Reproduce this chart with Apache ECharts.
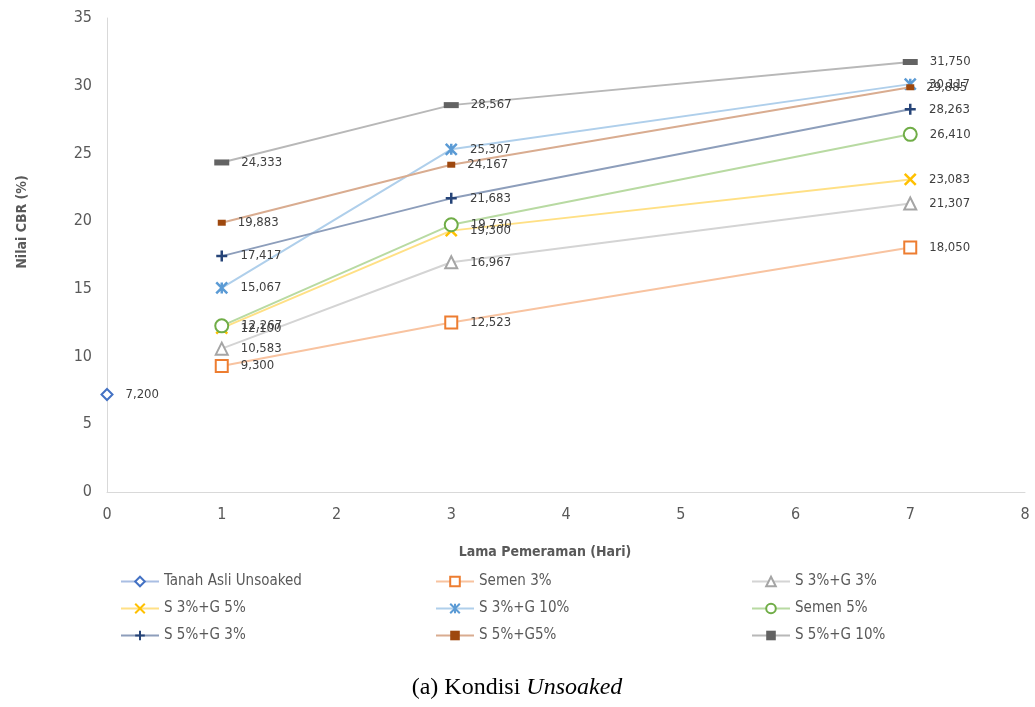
<!DOCTYPE html>
<html><head><meta charset="utf-8">
<script src="https://cdn.jsdelivr.net/npm/echarts@6/dist/echarts.min.js"></script>
<style>html,body{margin:0;padding:0;background:#fff}#c{width:1035px;height:707px}</style>
</head><body><div id="c"></div>
<script>
const seriesNames = ['Tanah Asli Unsoaked','Semen 3%','S 3%+G 3%','S 3%+G 5%','S 3%+G 10%','Semen 5%','S 5%+G 3%','S 5%+G5%','S 5%+G 10%'];
const daysAsli = [0];
const days = [1, 3, 7];
const tanahAsli = [7.200];
const semen3 = [9.300, 12.523, 18.050];
const s3g3 = [10.583, 16.967, 21.307];
const s3g5 = [12.100, 19.300, 23.083];
const s3g10 = [15.067, 25.307, 30.117];
const semen5 = [12.267, 19.730, 26.410];
const s5g3 = [17.417, 21.683, 28.263];
const s5g5 = [19.883, 24.167, 29.885];
const s5g10 = [24.333, 28.567, 31.750];
const xTicks = [0,1,2,3,4,5,6,7,8];
const yTicks = [0,5,10,15,20,25,30,35];

const FONT = "'Liberation Sans Narrow','DejaVu Sans Condensed','Open Sans',sans-serif";
const pair = (xs, ys) => xs.map((x,i)=>[x, ys[i]]);
const fmt = p => p.value[1].toFixed(3).replace('.', ',');

const styles = [
  {c:'#4472C4', sym:'diamond', size:11, hollow:true},
  {c:'#ED7D31', sym:'rect', size:12, hollow:true},
  {c:'#A5A5A5', sym:'triangle', size:12, hollow:true},
  {c:'#FFC000', sym:'path://M0,0L10,10M10,0L0,10', size:11, stroke:true},
  {c:'#5B9BD5', sym:'path://M0,0L10,10M10,0L0,10M5,0L5,10', size:11, stroke:true},
  {c:'#70AD47', sym:'circle', size:13, hollow:true},
  {c:'#264478', sym:'path://M5,0L5,10M0,5L10,5', size:11, stroke:true},
  {c:'#9E480E', sym:'rect', size:[8,6]},
  {c:'#636363', sym:'rect', size:[15,6]}
];
const lineColors = ['#A9BEE3','#F8C3A0','#D4D4D4','#FFE085','#AFCFEB','#B8DAA2','#8D9EBB','#D9AC90','#B8B8B8'];
const datas = [pair(daysAsli,tanahAsli), pair(days,semen3), pair(days,s3g3), pair(days,s3g5), pair(days,s3g10), pair(days,semen5), pair(days,s5g3), pair(days,s5g5), pair(days,s5g10)];

const series = seriesNames.map((n,i)=>{
  const s = styles[i];
  return {
    name:n, type:'line', data:datas[i], symbol:s.sym, symbolSize:s.size,
    lineStyle:{color:lineColors[i], width:2},
    itemStyle: s.hollow ? {color:'#fff', borderColor:s.c, borderWidth:2}
               : (s.stroke ? {color:'rgba(0,0,0,0)', borderColor:s.c, borderWidth:2.5} : {color:s.c, borderColor:s.c, borderWidth:0}),
    label:{show:true, position:'right', distance:12, formatter:fmt, color:'#404040', fontSize:13, fontFamily:FONT},
    emphasis:{disabled:true}, animation:false, z: 2+i
  };
});

const legendCommon = {orient:'vertical', top:569, itemWidth:38, itemHeight:12, itemGap:12,
  textStyle:{color:'#595959', fontSize:15, fontFamily:FONT}, selectedMode:false};

const chart = echarts.init(document.getElementById('c'), null, {renderer:'canvas'});
chart.setOption({
  animation:false,
  backgroundColor:'#fff',
  grid:{left:107, right:10, top:18, bottom:215},
  xAxis:{type:'value', min:xTicks[0], max:xTicks[xTicks.length-1], interval:1,
    axisLine:{show:true, lineStyle:{color:'#D9D9D9'}}, axisTick:{show:false}, splitLine:{show:false},
    axisLabel:{color:'#595959', fontSize:16, fontFamily:FONT, margin:15}},
  yAxis:{type:'value', min:yTicks[0], max:yTicks[yTicks.length-1], interval:5,
    axisLine:{show:true, lineStyle:{color:'#D9D9D9'}}, axisTick:{show:false}, splitLine:{show:false},
    axisLabel:{color:'#595959', fontSize:16, fontFamily:FONT, margin:15}},
  legend:[
    Object.assign({}, legendCommon, {left:115, data:[seriesNames[0],seriesNames[3],seriesNames[6]]}),
    Object.assign({}, legendCommon, {left:430, data:[seriesNames[1],seriesNames[4],seriesNames[7]]}),
    Object.assign({}, legendCommon, {left:746, data:[seriesNames[2],seriesNames[5],seriesNames[8]]})
  ],
  graphic:[
    {type:'text', x:22, y:222, rotation:Math.PI/2, style:{text:'Nilai CBR (%)', fill:'#595959', font:"bold 14px "+FONT, align:'center', verticalAlign:'middle'}},
    {type:'text', x:545, y:552, style:{text:'Lama Pemeraman (Hari)', fill:'#595959', font:"bold 14px "+FONT, align:'center', verticalAlign:'middle'}},
    {type:'text', x:517, y:688, style:{text:'{n|(a) Kondisi }{i|Unsoaked}', align:'center', verticalAlign:'middle',
      rich:{n:{fontFamily:"'Liberation Serif','DejaVu Serif',serif", fontSize:24, fill:'#000'}, i:{fontFamily:"'Liberation Serif','DejaVu Serif',serif", fontSize:24, fontStyle:'italic', fill:'#000'}}}}
  ],
  series: series
});
</script></body></html>
